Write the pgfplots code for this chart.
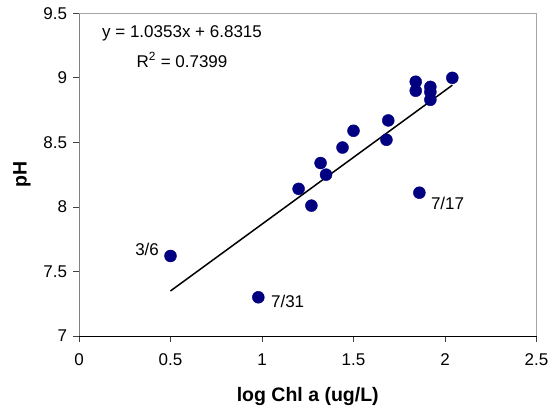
\documentclass[border=0pt]{standalone}
\usepackage{fontspec}
\setmainfont{Liberation Sans}
\usepackage{pgfplots}
\pgfplotsset{compat=1.18}
\definecolor{navy}{RGB}{0,0,128}
\begin{document}
\begin{tikzpicture}
\begin{axis}[
 scale only axis, width=457.5bp, height=322.7bp,
 xmin=0, xmax=2.5, ymin=7, ymax=9.5,
 xtick={0,0.5,1,1.5,2,2.5}, ytick={7,7.5,8,8.5,9,9.5},
 axis x line*=bottom, axis y line*=left,
 x axis line style={black, line width=0.9bp, -},
 y axis line style={gray, line width=0.9bp, -},
 tick align=outside, major tick length=5.5bp,
 tick style={black!75, line width=0.8bp},
 /pgf/number format/assume math mode=true,
 ticklabel style={font=\fontsize{17bp}{20bp}\selectfont},
 xticklabel style={yshift=-9bp},
 yticklabel style={xshift=-3bp},
 xlabel={log Chl a (ug/L)}, ylabel={pH},
 label style={font=\fontsize{19.5bp}{23bp}\selectfont\bfseries},
 xlabel style={anchor=center, at={(axis description cs:0.5,-0.189)}},
 ylabel style={anchor=center, at={(axis description cs:-0.1246,0.5)}},
 clip=false,
]
\draw[gray!70, line width=0.9bp] (rel axis cs:0,1) -- (rel axis cs:1,1) -- (rel axis cs:1,0);
\addplot[black, line width=1.5bp, no marks] coordinates {(0.5,7.349) (2.04,8.943)};
\addplot[only marks, mark=*, mark size=6bp, navy, mark options={fill=navy, draw=navy}] coordinates {
 (0.50,7.62) (0.98,7.30) (1.20,8.14) (1.27,8.01) (1.32,8.34) (1.35,8.25)
 (1.44,8.46) (1.50,8.59) (1.68,8.52) (1.69,8.67) (1.84,8.97) (1.84,8.90)
 (1.86,8.11) (1.92,8.93) (1.92,8.89) (1.92,8.83) (2.04,9.00)
};
\node[font=\fontsize{17bp}{20bp}\selectfont] at (axis cs:0.372,7.667) {3/6};
\node[font=\fontsize{17bp}{20bp}\selectfont] at (axis cs:1.140,7.266) {7/31};
\node[font=\fontsize{17bp}{20bp}\selectfont] at (axis cs:2.014,8.028) {7/17};
\node[font=\fontsize{17bp}{20bp}\selectfont] at (axis cs:0.563,9.347) {y = 1.0353x + 6.8315};
\node[font=\fontsize{17bp}{20bp}\selectfont] at (axis cs:0.563,9.138) {R\textsuperscript{2} = 0.7399};
\end{axis}
\pgfresetboundingbox
\path (-79bp,-73bp) rectangle (471bp,336bp);
\end{tikzpicture}
\end{document}
